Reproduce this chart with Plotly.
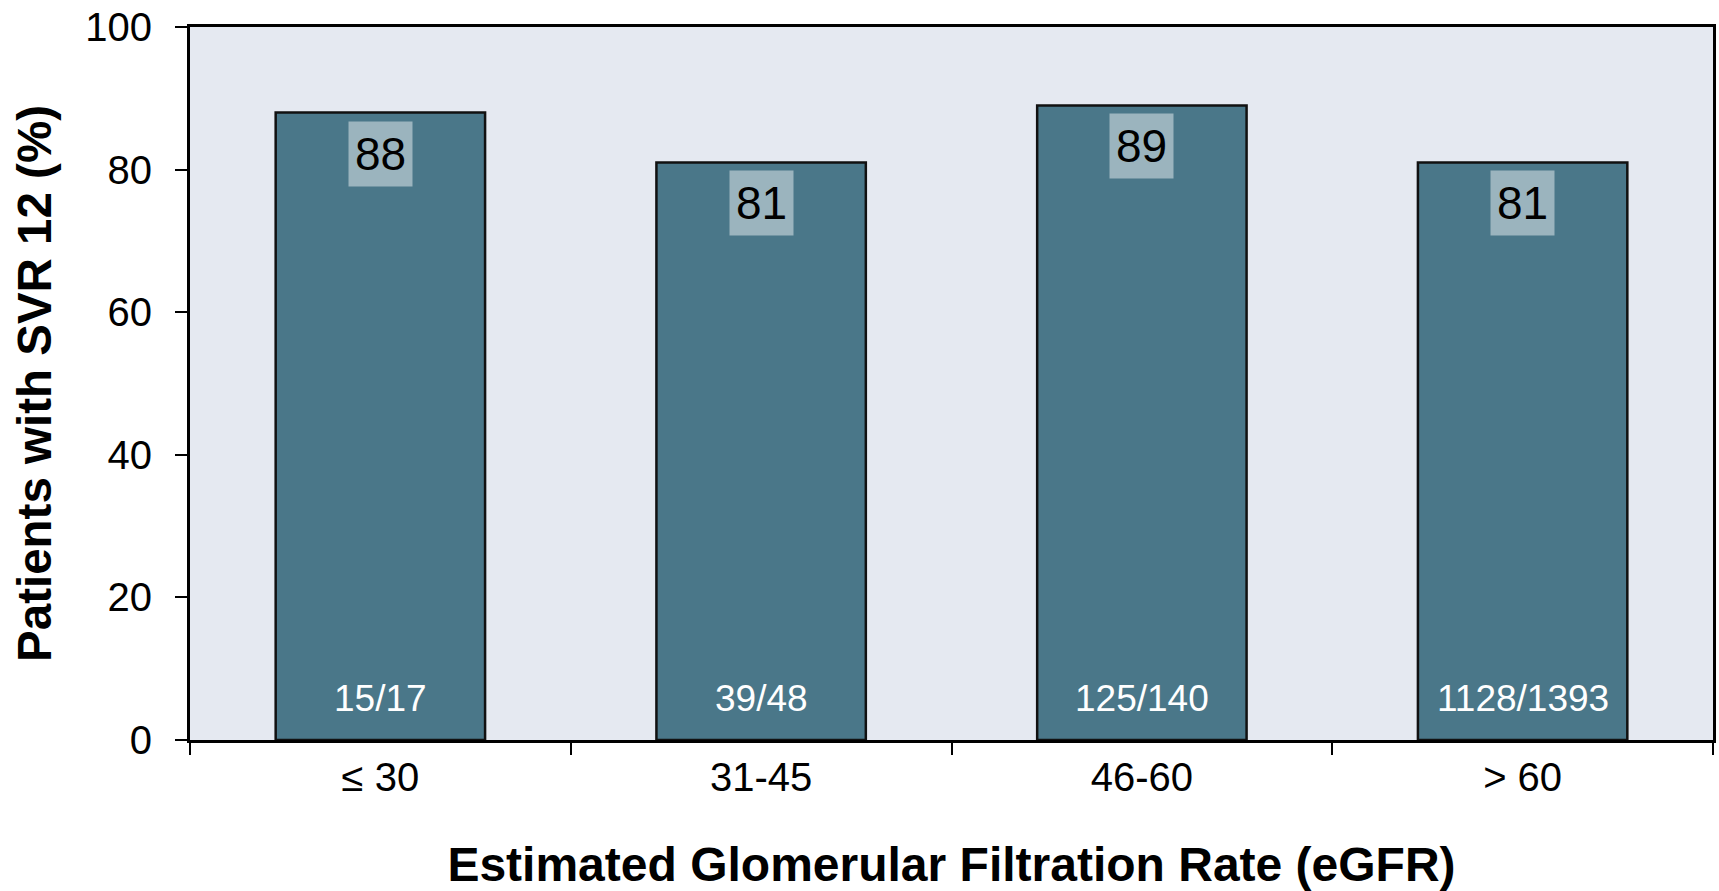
import plotly.graph_objects as go

# eGFR groups and SVR12 response
categories = ["\u2264 30", "31-45", "46-60", "> 60"]
svr_pct = [88, 81, 89, 81]
responders = ["15/17", "39/48", "125/140", "1128/1393"]

FONT = "Liberation Sans, Arial, sans-serif"
BAR_COLOR = "#4a7789"

fig = go.Figure()
fig.add_trace(go.Bar(
    x=categories,
    y=svr_pct,
    width=0.55,
    marker=dict(color=BAR_COLOR, line=dict(color="#111111", width=2.5)),
    hoverinfo="skip",
))

# percentage labels on light boxes near the top of each bar
for cat, val in zip(categories, svr_pct):
    fig.add_annotation(
        x=cat, y=val, xref="x", yref="y",
        text=str(val), showarrow=False,
        yanchor="top", yshift=-8,
        font=dict(family=FONT, size=46, color="#000000"),
        bgcolor="rgba(255,255,255,0.45)", borderpad=6,
    )

# responder counts at the foot of each bar
for cat, txt in zip(categories, responders):
    fig.add_annotation(
        x=cat, y=0, xref="x", yref="y",
        text=txt, showarrow=False,
        yanchor="bottom", yshift=19,
        font=dict(family=FONT, size=37, color="#ffffff"),
    )

fig.update_layout(
    width=1719, height=891,
    margin=dict(l=190, r=3, t=27, b=151),
    paper_bgcolor="#ffffff",
    plot_bgcolor="#e5e9f1",
    showlegend=False,
    font=dict(family=FONT, color="#000000"),
    bargap=0.45,
)

fig.update_xaxes(
    type="category",
    range=[-0.5, 3.5],
    showline=True, linecolor="#000000", linewidth=3, mirror=True,
    ticks="outside", tickson="boundaries", ticklen=12, tickwidth=2, tickcolor="#000000",
    tickfont=dict(family=FONT, size=40),
    ticklabelstandoff=0,
    showgrid=False,
    title=dict(text="<b>Estimated Glomerular Filtration Rate (eGFR)</b>",
               font=dict(family=FONT, size=48), standoff=55),
)

fig.update_yaxes(
    range=[0, 100],
    tickvals=[0, 20, 40, 60, 80, 100],
    showline=True, linecolor="#000000", linewidth=3, mirror=True,
    ticks="outside", ticklen=12, tickwidth=2, tickcolor="#000000",
    tickfont=dict(family=FONT, size=40),
    ticklabelstandoff=15,
    showgrid=False, zeroline=False,
    title=dict(text="<b>Patients with SVR 12 (%)</b>",
               font=dict(family=FONT, size=47.5), standoff=19),
)

fig.write_html("out.html")
